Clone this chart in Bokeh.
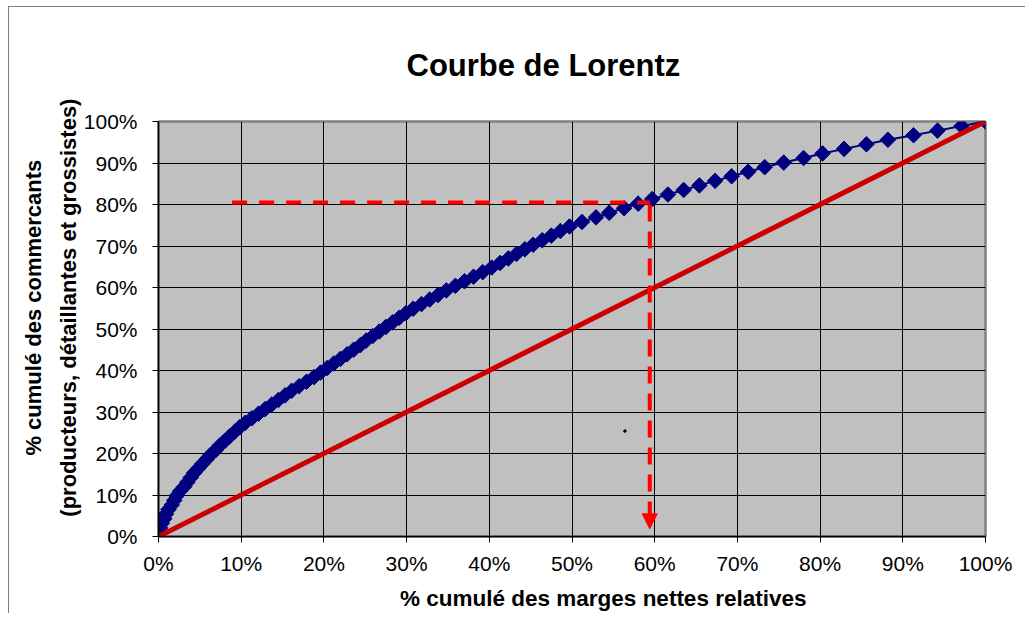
import math
from bokeh.plotting import figure
from bokeh.models import Range1d, Arrow, NormalHead, FixedTicker
from bokeh.embed import file_html
from bokeh.resources import INLINE

# ---- data (percent) ----
cum_margins = [0.0, 0.2, 0.4, 0.7, 0.9, 1.2, 1.6, 1.9, 2.2, 2.6,
               3.1, 3.5, 3.9, 4.3, 4.8, 5.3, 5.8, 6.3, 6.9, 7.4,
               8.0, 8.6, 9.2, 9.8, 10.5, 11.3, 12.1, 12.9, 13.7, 14.5,
               15.3, 16.1, 17.0, 17.9, 18.8, 19.6, 20.4, 21.2, 22.0, 22.8,
               23.6, 24.4, 25.1, 25.9, 26.7, 27.5, 28.3, 29.1, 29.9, 30.8,
               31.8, 32.8, 33.8, 34.8, 35.9, 37.0, 38.1, 39.2, 40.3, 41.3,
               42.3, 43.3, 44.3, 45.3, 46.4, 47.5, 48.6, 49.7, 51.2, 52.9,
               54.5, 56.3, 58.0, 59.7, 61.6, 63.5, 65.4, 67.3, 69.3, 71.3,
               73.3, 75.6, 78.0, 80.3, 82.9, 85.6, 88.2, 91.3, 94.2, 97.1,
               100.0]
cum_traders = [1.0, 2.1, 3.2, 4.3, 5.4, 6.5, 7.6, 8.7, 9.8, 10.9,
               12.0, 13.1, 14.2, 15.3, 16.4, 17.5, 18.6, 19.7, 20.8, 21.9,
               23.0, 24.1, 25.2, 26.3, 27.4, 28.5, 29.6, 30.7, 31.8, 32.9,
               34.0, 35.1, 36.2, 37.3, 38.4, 39.5, 40.6, 41.7, 42.8, 43.9,
               45.0, 46.1, 47.2, 48.3, 49.4, 50.5, 51.6, 52.7, 53.8, 54.9,
               56.0, 57.1, 58.2, 59.3, 60.4, 61.5, 62.6, 63.7, 64.8, 65.9,
               67.0, 68.1, 69.2, 70.3, 71.4, 72.5, 73.6, 74.7, 75.8, 76.9,
               78.0, 79.1, 80.2, 81.3, 82.4, 83.5, 84.6, 85.7, 86.8, 87.9,
               89.0, 90.1, 91.2, 92.3, 93.4, 94.5, 95.6, 96.7, 97.8, 98.9,
               100.0]
equality_x = [0, 100]
equality_y = [0, 100]

tick_values = [0, 10, 20, 30, 40, 50, 60, 70, 80, 90, 100]
tick_labels = ["0%", "10%", "20%", "30%", "40%", "50%", "60%", "70%", "80%", "90%", "100%"]

# reading guide (80% of traders -> ~59% of margins)
guide_y = 80.5
guide_x = 59.4
guide_x_start = 8.9
guide_y_end = 1.85

stray_x = [56.4]
stray_y = [25.4]

title_text = "Courbe de Lorentz"
xtitle = "% cumulé des marges nettes relatives"
ytitle_1 = "% cumulé des commercants"
ytitle_2 = "(producteurs, détaillantes et grossistes)"

FONT = "Liberation Sans"
NB = "\u00a0"

p = figure(frame_width=827, frame_height=415,
           min_border_left=149, min_border_right=40,
           min_border_top=114, min_border_bottom=75,
           x_range=Range1d(0, 100), y_range=Range1d(0, 100),
           output_backend="svg", toolbar_location=None,
           background_fill_color="#C0C0C0", border_fill_color="white",
           title=title_text)
p.styles = {"margin-left": "8px", "margin-top": "6px",
            "border-top": "1px solid #808080", "border-left": "1px solid #808080"}

p.title.text_font = FONT
p.title.text_font_size = "31px"
p.title.text_font_style = "bold"
p.title.text_color = "black"
p.title.align = "left"
p.title.offset = 248
p.title.standoff = 77

p.outline_line_color = "#808080"
p.outline_line_width = 2.5

for ax in (p.xaxis[0], p.yaxis[0]):
    ax.ticker = FixedTicker(ticks=tick_values)
    ax.major_label_overrides = {v: l for v, l in zip(tick_values, tick_labels)}
    ax.major_label_text_font = FONT
    ax.major_label_text_font_size = "21px"
    ax.major_label_text_color = "black"
    ax.axis_line_color = "black"
    ax.axis_line_width = 1.5
    ax.major_tick_in = 0
    ax.major_tick_out = 6
    ax.major_tick_line_color = "black"
    ax.minor_tick_line_color = None
    ax.axis_label_text_font = FONT
    ax.axis_label_text_font_style = "bold"
    ax.axis_label_text_color = "black"
p.xaxis.major_label_standoff = 9
p.yaxis.major_label_standoff = 15

p.xaxis.axis_label = NB * 10 + xtitle
p.xaxis.axis_label_text_font_size = "22.5px"
p.xaxis.axis_label_standoff = 8
p.yaxis.axis_label = NB * 7 + ytitle_1 + "\n" + NB * 7 + ytitle_2
p.yaxis.axis_label_text_font_size = "22px"
p.yaxis.axis_label_text_line_height = 1.4
p.yaxis.axis_label_standoff = 0

for g in (p.xgrid[0], p.ygrid[0]):
    g.ticker = FixedTicker(ticks=tick_values)
    g.grid_line_color = "black"
    g.grid_line_width = 1

# Lorenz curve
p.line(cum_margins, cum_traders, line_color="#000080", line_width=2)
p.scatter(cum_margins, cum_traders, marker="square", angle=math.pi / 4, size=11,
          fill_color="#000080", line_color="#000080")

# equality line
p.line(equality_x, equality_y, line_color="#CC0000", line_width=5)

# stray mark
p.scatter(stray_x, stray_y, marker="circle", size=2.5, fill_color="black", line_color="black")

# dashed guides
p.line([guide_x_start, guide_x], [guide_y, guide_y], line_color="#FF0000",
       line_width=4, line_dash="15 12")
p.add_layout(Arrow(end=NormalHead(size=15, fill_color="#FF0000", line_color="#FF0000"),
                   x_start=guide_x, y_start=guide_y - 0.5, x_end=guide_x, y_end=guide_y_end,
                   line_color="#FF0000", line_width=4, line_dash="17 10"))

open("out.html", "w").write(file_html(p, INLINE))
